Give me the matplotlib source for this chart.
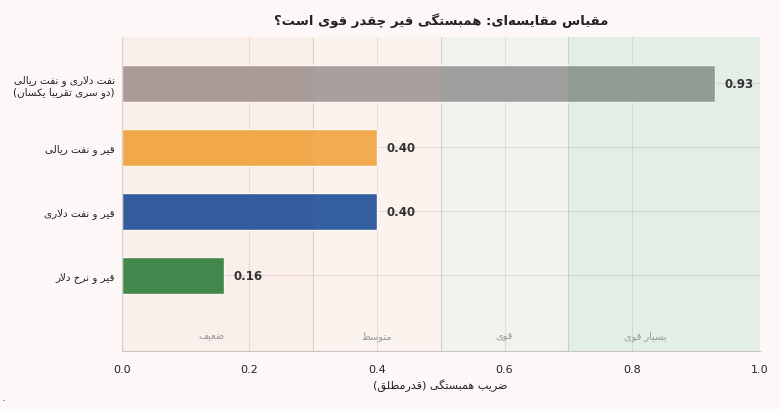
import numpy as np
import matplotlib
matplotlib.use("Agg")
import matplotlib.pyplot as plt

# Persian letters -> presentation forms (isolated, final, initial, medial)
AR = {
    'ا': ('\uFE8D', '\uFE8E', None, None),
    'آ': ('\uFE81', '\uFE82', None, None),
    'ب': ('\uFE8F', '\uFE90', '\uFE91', '\uFE92'),
    'پ': ('\uFB56', '\uFB57', '\uFB58', '\uFB59'),
    'ت': ('\uFE95', '\uFE96', '\uFE97', '\uFE98'),
    'ث': ('\uFE99', '\uFE9A', '\uFE9B', '\uFE9C'),
    'ج': ('\uFE9D', '\uFE9E', '\uFE9F', '\uFEA0'),
    'چ': ('\uFB7A', '\uFB7B', '\uFB7C', '\uFB7D'),
    'ح': ('\uFEA1', '\uFEA2', '\uFEA3', '\uFEA4'),
    'خ': ('\uFEA5', '\uFEA6', '\uFEA7', '\uFEA8'),
    'د': ('\uFEA9', '\uFEAA', None, None),
    'ذ': ('\uFEAB', '\uFEAC', None, None),
    'ر': ('\uFEAD', '\uFEAE', None, None),
    'ز': ('\uFEAF', '\uFEB0', None, None),
    'ژ': ('\uFB8A', '\uFB8B', None, None),
    'س': ('\uFEB1', '\uFEB2', '\uFEB3', '\uFEB4'),
    'ش': ('\uFEB5', '\uFEB6', '\uFEB7', '\uFEB8'),
    'ص': ('\uFEB9', '\uFEBA', '\uFEBB', '\uFEBC'),
    'ض': ('\uFEBD', '\uFEBE', '\uFEBF', '\uFEC0'),
    'ط': ('\uFEC1', '\uFEC2', '\uFEC3', '\uFEC4'),
    'ظ': ('\uFEC5', '\uFEC6', '\uFEC7', '\uFEC8'),
    'ع': ('\uFEC9', '\uFECA', '\uFECB', '\uFECC'),
    'غ': ('\uFECD', '\uFECE', '\uFECF', '\uFED0'),
    'ف': ('\uFED1', '\uFED2', '\uFED3', '\uFED4'),
    'ق': ('\uFED5', '\uFED6', '\uFED7', '\uFED8'),
    'ک': ('\uFB8E', '\uFB8F', '\uFB90', '\uFB91'),
    'گ': ('\uFB92', '\uFB93', '\uFB94', '\uFB95'),
    'ل': ('\uFEDD', '\uFEDE', '\uFEDF', '\uFEE0'),
    'م': ('\uFEE1', '\uFEE2', '\uFEE3', '\uFEE4'),
    'ن': ('\uFEE5', '\uFEE6', '\uFEE7', '\uFEE8'),
    'و': ('\uFEED', '\uFEEE', None, None),
    'ه': ('\uFEE9', '\uFEEA', '\uFEEB', '\uFEEC'),
    'ی': ('\uFBFC', '\uFBFD', '\uFBFE', '\uFBFF'),
}


def joins_next(c):
    return c in AR and AR[c][2] is not None


def fa(text):
    out = []
    for line in text.split('\n'):
        res = []
        i = 0
        n = len(line)
        while i < n:
            c = line[i]
            if c not in AR:
                if c != '\u200c':
                    res.append(c)
                i += 1
                continue
            p = i > 0 and joins_next(line[i - 1])
            if c == 'ل' and i + 1 < n and line[i + 1] == 'ا':
                res.append('\uFEFC' if p else '\uFEFB')
                i += 2
                continue
            nx = joins_next(c) and i + 1 < n and line[i + 1] in AR
            iso, fin, ini, med = AR[c]
            if p and nx:
                g = med
            elif p:
                g = fin
            elif nx:
                g = ini
            else:
                g = iso
            res.append(g)
            i += 1
        s = ''.join(reversed(res)).translate(str.maketrans('()', ')('))
        out.append(s)
    return '\n'.join(out)


# data
pairs = ['نفت دلاری و نفت ریالی\n(دو سری تقریبا یکسان)',
         'قیر و نفت ریالی',
         'قیر و نفت دلاری',
         'قیر و نرخ دلار']
corr = [0.93, 0.40, 0.40, 0.16]
bar_colors = ['#9d9696', '#f0a53a', '#144b9c', '#247e3b']

band_edges = [0.0, 0.3, 0.5, 0.7, 1.0]
band_names = ['ضعیف', 'متوسط', 'قوی', 'بسیار قوی']
band_label_x = [0.14, 0.40, 0.60, 0.82]
band_colors = ['#f0bca7', '#f0d7c1', '#a7d7c1', '#50bc85']

title = 'مقیاس مقایسه‌ای: همبستگی قیر چقدر قوی است؟'
xlabel = 'ضریب همبستگی (قدرمطلق)'

bg = '#fdf8f7'
fig = plt.figure(figsize=(7.8, 4.1), dpi=100, facecolor=bg)
ax = fig.add_axes([0.156, 0.141, 0.818, 0.766])
ax.set_facecolor(bg)

y = np.arange(len(pairs))
ax.barh(y, corr, height=0.58, color=bar_colors, edgecolor='white',
        linewidth=1, zorder=2)

for lo, hi, c in zip(band_edges[:-1], band_edges[1:], band_colors):
    ax.axvspan(lo, hi, color=c, alpha=0.15, lw=0, zorder=3)
for b in band_edges[1:-1]:
    ax.axvline(b, color='#d3d6d0', lw=0.8, zorder=1)

for yi, v in zip(y, corr):
    ax.text(v + 0.015, yi, f'{v:.2f}', va='center', ha='left',
            fontsize=8.5, fontweight='bold', color='#333333', zorder=5)

ax.set_xlim(0, 1.0)
ax.set_ylim(len(pairs) - 1 + 1.19, -0.72)
for name, xv in zip(band_names, band_label_x):
    ax.text(xv, len(pairs) - 1 + 0.94, fa(name), ha='center', va='center',
            fontsize=7, color='#999999', zorder=5)

ax.set_yticks(y)
ax.set_yticklabels([fa(p) for p in pairs], fontsize=7.5, color='#222222')
ax.set_xticks([0.0, 0.2, 0.4, 0.6, 0.8, 1.0])
ax.set_xticklabels(['0.0', '0.2', '0.4', '0.6', '0.8', '1.0'], fontsize=8,
                   color='#222222')
ax.tick_params(axis='x', length=0, pad=9)
ax.tick_params(axis='y', length=0, pad=5)
ax.set_xlabel(fa(xlabel), fontsize=8, color='#222222', labelpad=3)

ax.grid(True, color='#e8dfdc', lw=0.8, zorder=0)
ax.set_axisbelow(True)
for s in ['top', 'right']:
    ax.spines[s].set_visible(False)
ax.spines['left'].set_color('#d5d0ce')
ax.spines['bottom'].set_color('#c9c4c2')

fig.text(0.5 * (0.156 + 0.974), 0.95, fa(title), ha='center', va='center',
         fontsize=9.5, fontweight='bold', color='#222222')
fig.text(0.002, 0.022, '.', fontsize=8, color='#333333')

fig.savefig('out.png', dpi=100, facecolor=bg)
